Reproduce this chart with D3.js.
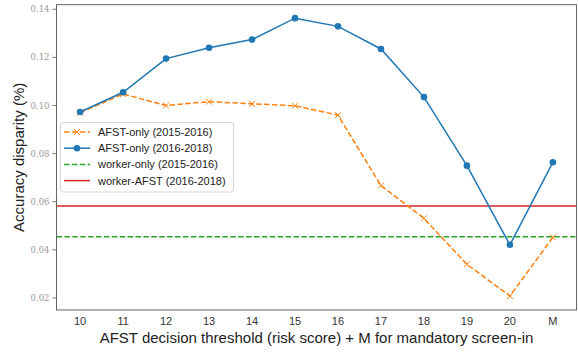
<!DOCTYPE html>
<html>
<head>
<meta charset="utf-8">
<script src="https://cdn.jsdelivr.net/npm/d3@7"></script>
<style>
  body { margin: 0; background: #fff; }
  text { font-family: "Liberation Sans", Arial, sans-serif; }
</style>
</head>
<body>
<div id="chart"></div>
<script>
// thresholds on the x axis (M = mandatory screen-in)
var categories = ["10", "11", "12", "13", "14", "15", "16", "17", "18", "19", "20", "M"];

// AFST-only (2015-2016), orange dashed with x markers
var afst1516 = [0.0970, 0.1048, 0.1000, 0.1016, 0.1007, 0.0999, 0.0960, 0.0667, 0.0531, 0.0340, 0.0208, 0.0452];

// AFST-only (2016-2018), blue with dots
var afst1618 = [0.0973, 0.1055, 0.1195, 0.1240, 0.1274, 0.1363, 0.1329, 0.1235, 0.1035, 0.0750, 0.0421, 0.0764];

// constant reference lines
var workerOnly1516 = 0.0454;
var workerAfst1618 = 0.0582;

var yTicks = [0.02, 0.04, 0.06, 0.08, 0.10, 0.12, 0.14];

var width = 578, height = 352;
var padL = 56.5, padR = 576.5, padT = 4.7, padB = 310;

var svg = d3.select("#chart").append("svg")
	.attr("width", width)
	.attr("height", height);

var x = d3.scaleLinear()
	.domain([-0.55, categories.length - 1 + 0.55])
	.range([padL, padR]);

var y = d3.scaleLinear()
	.domain([0.015, 0.1419])
	.range([padB, padT]);

// y axis ticks and labels
svg.selectAll("line.ytick")
	.data(yTicks)
	.enter()
	.append("line")
	.attr("class", "ytick")
	.attr("x1", padL - 4)
	.attr("x2", padL)
	.attr("y1", function(d) { return y(d); })
	.attr("y2", function(d) { return y(d); })
	.attr("stroke", "#555")
	.attr("stroke-width", 0.8);

svg.selectAll("text.ylab")
	.data(yTicks)
	.enter()
	.append("text")
	.attr("class", "ylab")
	.attr("x", padL - 7)
	.attr("y", function(d) { return y(d) + 3; })
	.attr("text-anchor", "end")
	.style("font-family", "'DejaVu Serif', serif")
	.style("font-size", "8.5px")
	.attr("fill", "#999")
	.text(function(d) { return d.toFixed(2); });

// x tick labels
svg.selectAll("text.xlab")
	.data(categories)
	.enter()
	.append("text")
	.attr("class", "xlab")
	.attr("x", function(d, i) { return x(i); })
	.attr("y", 324.5)
	.attr("text-anchor", "middle")
	.style("font-size", "11px")
	.attr("fill", "#333")
	.text(function(d) { return d; });

// horizontal reference lines
svg.append("line")
	.attr("x1", padL).attr("x2", padR)
	.attr("y1", y(workerAfst1618)).attr("y2", y(workerAfst1618))
	.attr("stroke", "#d62728")
	.attr("stroke-width", 1.5);

svg.append("line")
	.attr("x1", padL).attr("x2", padR)
	.attr("y1", y(workerOnly1516)).attr("y2", y(workerOnly1516))
	.attr("stroke", "#2ca02c")
	.attr("stroke-width", 1.5)
	.attr("stroke-dasharray", "5.5,2.4");

var line = d3.line()
	.x(function(d, i) { return x(i); })
	.y(function(d) { return y(d); });

// orange series
svg.append("path")
	.datum(afst1516)
	.attr("d", line)
	.attr("fill", "none")
	.attr("stroke", "#ff7f0e")
	.attr("stroke-width", 1.5)
	.attr("stroke-dasharray", "5.5,2.4");

svg.selectAll("path.xmark")
	.data(afst1516)
	.enter()
	.append("path")
	.attr("class", "xmark")
	.attr("d", "M-3,-3L3,3M-3,3L3,-3")
	.attr("transform", function(d, i) { return "translate(" + x(i) + "," + y(d) + ")"; })
	.attr("stroke", "#ff7f0e")
	.attr("stroke-width", 1);

// blue series
svg.append("path")
	.datum(afst1618)
	.attr("d", line)
	.attr("fill", "none")
	.attr("stroke", "#1f77b4")
	.attr("stroke-width", 1.5);

svg.selectAll("circle.dot")
	.data(afst1618)
	.enter()
	.append("circle")
	.attr("class", "dot")
	.attr("cx", function(d, i) { return x(i); })
	.attr("cy", function(d) { return y(d); })
	.attr("r", 3.3)
	.attr("fill", "#1f77b4");

// frame
svg.append("rect")
	.attr("x", padL).attr("y", padT)
	.attr("width", padR - padL).attr("height", padB - padT)
	.attr("fill", "none")
	.attr("stroke", "#555")
	.attr("stroke-width", 0.9);

// legend
var legendItems = [
	{ label: "AFST-only (2015-2016)", color: "#ff7f0e", dash: "5.5,2.4", mark: "x" },
	{ label: "AFST-only (2016-2018)", color: "#1f77b4", dash: null, mark: "o" },
	{ label: "worker-only (2015-2016)", color: "#2ca02c", dash: "5.5,2.4", mark: null },
	{ label: "worker-AFST (2016-2018)", color: "#d62728", dash: null, mark: null }
];

svg.append("rect")
	.attr("x", 60.5).attr("y", 122.5)
	.attr("width", 173).attr("height", 69.5)
	.attr("rx", 2.5)
	.attr("fill", "#fff")
	.attr("fill-opacity", 0.8)
	.attr("stroke", "#ccc")
	.attr("stroke-width", 0.8);

var lg = svg.selectAll("g.leg")
	.data(legendItems)
	.enter()
	.append("g")
	.attr("class", "leg")
	.attr("transform", function(d, i) { return "translate(0," + (132 + i * 16.2) + ")"; });

lg.append("line")
	.attr("x1", 64).attr("x2", 90)
	.attr("stroke", function(d) { return d.color; })
	.attr("stroke-width", 1.5)
	.attr("stroke-dasharray", function(d) { return d.dash; });

lg.filter(function(d) { return d.mark === "x"; })
	.append("path")
	.attr("d", "M74,-3L80,3M74,3L80,-3")
	.attr("stroke", function(d) { return d.color; })
	.attr("stroke-width", 1);

lg.filter(function(d) { return d.mark === "o"; })
	.append("circle")
	.attr("cx", 77).attr("cy", 0).attr("r", 3.3)
	.attr("fill", function(d) { return d.color; });

lg.append("text")
	.attr("x", 98)
	.attr("y", 4)
	.style("font-size", "11px")
	.attr("fill", "#222")
	.text(function(d) { return d.label; });

// axis titles
svg.append("text")
	.attr("x", (padL + padR) / 2)
	.attr("y", 342.5)
	.attr("text-anchor", "middle")
	.style("font-size", "15px")
	.attr("fill", "#222")
	.text("AFST decision threshold (risk score) + M for mandatory screen-in");

svg.append("text")
	.attr("transform", "translate(24," + ((padT + padB) / 2) + ") rotate(-90)")
	.attr("text-anchor", "middle")
	.style("font-size", "15px")
	.attr("fill", "#222")
	.text("Accuracy disparity (%)");
</script>
</body>
</html>
